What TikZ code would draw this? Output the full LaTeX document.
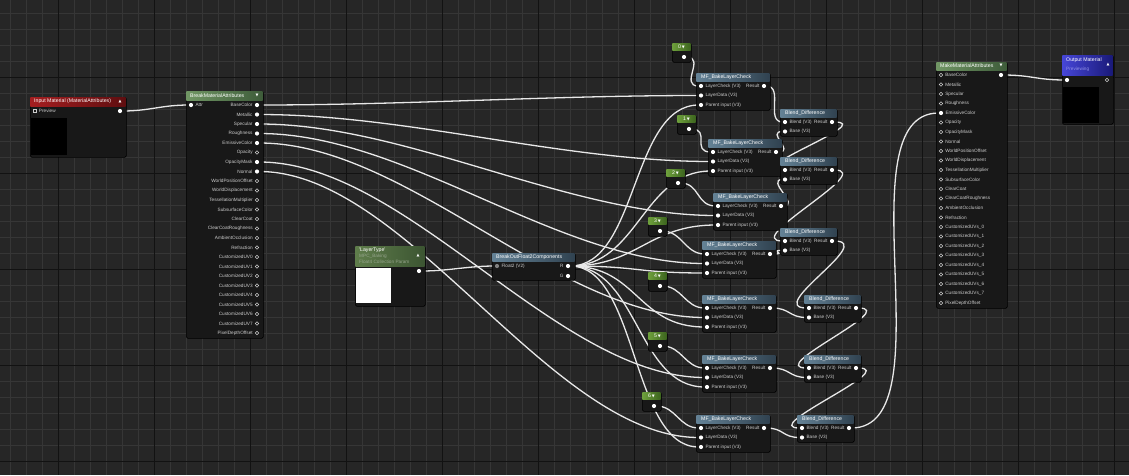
\documentclass[tikz,border=0pt]{standalone}
\usepackage{fontspec}
\setmainfont{Liberation Sans}
\newfontfamily\symfont{DejaVu Sans}
\usetikzlibrary{positioning}

\definecolor{gridbg}{RGB}{38,38,38}
\definecolor{gridminor}{RGB}{54,54,54}
\definecolor{gridmajor}{RGB}{18,18,18}
\definecolor{nodebg}{RGB}{24,24,24}
\definecolor{wirec}{RGB}{232,232,232}
\definecolor{lblc}{RGB}{205,205,205}
\definecolor{dimc}{RGB}{150,165,140}
\definecolor{redA}{RGB}{165,30,32}
\definecolor{redB}{RGB}{95,14,16}
\definecolor{grnA}{RGB}{112,150,100}
\definecolor{grnB}{RGB}{62,92,58}
\definecolor{bluA}{RGB}{100,130,150}
\definecolor{bluB}{RGB}{48,66,80}
\definecolor{cstA}{RGB}{110,160,60}
\definecolor{cstB}{RGB}{60,100,30}
\definecolor{ltA}{RGB}{95,125,75}
\definecolor{ltB}{RGB}{60,85,50}
\definecolor{outA}{RGB}{70,70,215}
\definecolor{outB}{RGB}{25,25,120}

\newcommand{\hdfont}{\fontsize{5.2}{6}\selectfont}
\newcommand{\pinfont}{\fontsize{4.7}{5.5}\selectfont}
\newcommand{\arrdown}{{\symfont\fontsize{3.8}{4}\selectfont ▼}}
\newcommand{\arrup}{{\symfont\fontsize{3.8}{4}\selectfont ▲}}

\pgfdeclarelayer{gridlayer}
\pgfdeclarelayer{wirelayer}
\pgfsetlayers{gridlayer,wirelayer,main}

\begin{document}
\begin{tikzpicture}[x=1pt, y=-1pt,
    body/.style={draw=black, fill=nodebg, rounded corners=1.5pt, anchor=north west, inner sep=0pt, line width=0.6pt},
    htext/.style={font=\hdfont, text=white, inner sep=0pt, anchor=west},
    dtext/.style={font=\pinfont, text=dimc, inner sep=0pt, anchor=west},
    lbl/.style={font=\pinfont, text=lblc, inner sep=0pt},
    pinon/.style={circle, fill=white, inner sep=0pt, minimum size=4.2pt},
    pinoff/.style={circle, draw=lblc, line width=0.5pt, inner sep=0pt, minimum size=3.6pt},
    wire/.style={draw=wirec, line width=1.3pt}
    ]

    \useasboundingbox (0,0) rectangle (1129,475);

    % grid
    \begin{pgfonlayer}{gridlayer}
    \fill[gridbg] (0,0) rectangle (1129,475);
    \foreach \gx in {10,26,...,1129} \draw[gridminor, line width=0.5pt] (\gx,0) -- (\gx,475);
    \foreach \gy in {13,29,...,475} \draw[gridminor, line width=0.5pt] (0,\gy) -- (1129,\gy);
    \foreach \gx in {58,154,...,1129} \draw[gridmajor, line width=0.9pt] (\gx,0) -- (\gx,475);
    \foreach \gy in {77,173,...,475} \draw[gridmajor, line width=0.9pt] (0,\gy) -- (1129,\gy);
    \end{pgfonlayer}

    % input material
    \node[body, minimum width=96, minimum height=60] (inmat) at (30,97) {};
    \shade[left color=redA, right color=redB] (30.3,97.3) rectangle (125.7,106);
    \node[htext] at (34,101.5) {Input Material (MaterialAttributes)};
    \node[htext, anchor=center] at (120,101.5) {\arrup};
    \node[pinoff, rectangle, minimum size=3pt] (inmat-pv) at (35,111) {};
    \node[lbl, right=2pt of inmat-pv] {Preview};
    \node[pinon] (inmat-out) at (120,111) {};
    \fill[black] (31,118) rectangle (67,155);

    % break material attributes
    \node[body, minimum width=77, minimum height=247] (bma) at (186,91) {};
    \shade[left color=grnA, right color=grnB] (186.3,91.3) rectangle (262.7,100);
    \node[htext] at (190,95.5) {BreakMaterialAttributes};
    \node[htext, anchor=center] at (257,95.5) {\arrdown};
    \node[pinon] (bma-in) at (191,105) {};
    \node[lbl, right=2pt of bma-in] {Attr};
    \foreach \lab/\st [count=\k from 0] in {BaseColor/pinon, Metallic/pinon, Specular/pinon, Roughness/pinon, EmissiveColor/pinon, Opacity/pinoff, OpacityMask/pinon, Normal/pinon, WorldPositionOffset/pinoff, WorldDisplacement/pinoff, TessellationMultiplier/pinoff, SubsurfaceColor/pinoff, ClearCoat/pinoff, ClearCoatRoughness/pinoff, AmbientOcclusion/pinoff, Refraction/pinoff, CustomizedUV0/pinoff, CustomizedUV1/pinoff, CustomizedUV2/pinoff, CustomizedUV3/pinoff, CustomizedUV4/pinoff, CustomizedUV5/pinoff, CustomizedUV6/pinoff, CustomizedUV7/pinoff, PixelDepthOffset/pinoff} {
        \node[\st] (bma-\k) at (257,105+9.5*\k) {};
        \node[lbl, left=2pt of bma-\k] {\lab};
    }

    % layer type parameter
    \node[body, minimum width=70, minimum height=60] (ltype) at (355,246) {};
    \shade[left color=ltA, right color=ltB] (355.3,246.3) rectangle (424.7,266);
    \node[htext] at (359,250) {\textquotesingle LayerType\textquotesingle};
    \node[dtext] at (359,256) {MPC\_Baking};
    \node[dtext] at (359,262) {Float4 Collection Param};
    \node[htext, anchor=center] at (418,256) {\arrup};
    \fill[white] (356,268) rectangle (391,303);
    \node[pinon] (ltype-out) at (419,271) {};

    % break out float2
    \node[body, minimum width=83, minimum height=27] (bof) at (492,253) {};
    \shade[left color=bluA, right color=bluB] (492.3,253.3) rectangle (574.7,261);
    \node[htext] at (496,257) {BreakOutFloat2Components};
    \node[pinon, fill=gray] (bof-in) at (497,266) {};
    \node[lbl, right=2pt of bof-in] {Float2 (V2)};
    \node[pinon] (bof-r) at (568,266) {};
    \node[lbl, left=2pt of bof-r] {R};
    \node[pinon] (bof-g) at (568,276) {};
    \node[lbl, left=2pt of bof-g] {G};

    % constants
    \foreach \i/\x/\y in {0/672/43, 1/677/115, 2/666/169, 3/648/217, 4/648/272, 5/648/332, 6/642/392} {
        \node[body, minimum width=19, minimum height=19] (k\i) at (\x,\y) {};
        \shade[left color=cstA, right color=cstB] (\x+0.3,\y+0.3) rectangle (\x+18.7,\y+7);
        \node[htext, anchor=center] at (\x+9.5,\y+3.6) {\i\,\arrdown};
        \node[pinon] (k\i-o) at (\x+12,\y+14) {};
    }

    % layer checks
    \foreach \i/\x/\y in {0/696/73, 1/708/139, 2/713/193, 3/702/241, 4/702/295, 5/702/355, 6/696/415} {
        \node[body, minimum width=74, minimum height=37] (lf\i) at (\x,\y) {};
        \shade[left color=bluA, right color=bluB] (\x+0.3,\y+0.3) rectangle (\x+73.7,\y+8);
        \node[htext] at (\x+5,\y+4) {MF\_BakeLayerCheck};
        \node[pinon] (lf\i-c) at (\x+5,\y+13) {};
        \node[pinon] (lf\i-d) at (\x+5,\y+22.5) {};
        \node[pinon] (lf\i-p) at (\x+5,\y+32) {};
        \node[pinon] (lf\i-r) at (\x+68,\y+13) {};
        \node[lbl, right=2pt of lf\i-c] {LayerCheck (V3)};
        \node[lbl, right=2pt of lf\i-d] {LayerData (V3)};
        \node[lbl, right=2pt of lf\i-p] {Parent input (V3)};
        \node[lbl, left=2pt of lf\i-r] {Result};
    }

    % blends
    \foreach \i/\x/\y in {0/780/109, 1/780/157, 2/780/228, 3/804/295, 4/804/355, 5/797/415} {
        \node[body, minimum width=57, minimum height=27] (bd\i) at (\x,\y) {};
        \shade[left color=bluA, right color=bluB] (\x+0.3,\y+0.3) rectangle (\x+56.7,\y+8);
        \node[htext] at (\x+5,\y+4) {Blend\_Difference};
        \node[pinon] (bd\i-a) at (\x+5,\y+13) {};
        \node[pinon] (bd\i-b) at (\x+5,\y+22.5) {};
        \node[pinon] (bd\i-r) at (\x+52,\y+13) {};
        \node[lbl, right=2pt of bd\i-a] {Blend (V3)};
        \node[lbl, right=2pt of bd\i-b] {Base (V3)};
        \node[lbl, left=2pt of bd\i-r] {Result};
    }

    % make material attributes
    \node[body, minimum width=71, minimum height=246] (mma) at (936,62) {};
    \shade[left color=grnA, right color=grnB] (936.3,62.3) rectangle (1006.7,70);
    \node[htext] at (940,66) {MakeMaterialAttributes};
    \node[htext, anchor=center] at (1001,66) {\arrdown};
    \foreach \lab/\st [count=\k from 0] in {BaseColor/pinoff, Metallic/pinoff, Specular/pinoff, Roughness/pinoff, EmissiveColor/pinon, Opacity/pinoff, OpacityMask/pinoff, Normal/pinoff, WorldPositionOffset/pinoff, WorldDisplacement/pinoff, TessellationMultiplier/pinoff, SubsurfaceColor/pinoff, ClearCoat/pinoff, ClearCoatRoughness/pinoff, AmbientOcclusion/pinoff, Refraction/pinoff, CustomizedUVs\_0/pinoff, CustomizedUVs\_1/pinoff, CustomizedUVs\_2/pinoff, CustomizedUVs\_3/pinoff, CustomizedUVs\_4/pinoff, CustomizedUVs\_5/pinoff, CustomizedUVs\_6/pinoff, CustomizedUVs\_7/pinoff, PixelDepthOffset/pinoff} {
        \node[\st] (mma-\k) at (941,75+9.5*\k) {};
        \node[lbl, right=2pt of mma-\k] {\lab};
    }
    \node[pinon] (mma-out) at (1001,75) {};

    % output material
    \node[body, minimum width=51, minimum height=69] (outmat) at (1062,55) {};
    \shade[left color=outA, right color=outB] (1062.3,55.3) rectangle (1112.7,75);
    \node[htext] at (1066,60) {Output Material};
    \node[dtext, text=outA!60!white] at (1066,69) {Previewing};
    \node[htext, anchor=center] at (1108,65) {\arrup};
    \node[pinon] (outmat-in) at (1067,80) {};
    \node[pinoff] (outmat-out) at (1107,80) {};
    \fill[black] (1063,87) rectangle (1099,123);

    % wires
    \begin{pgfonlayer}{wirelayer}
    \draw[wire] (inmat-out) .. controls +(30,0) and +(-30,0) .. (bma-in);
    \draw[wire] (ltype-out) .. controls +(30,0) and +(-30,0) .. (bof-in);
    \foreach \i/\k in {0/0, 1/1, 2/2, 3/3, 4/4, 5/6, 6/7}
        \draw[wire] (bma-\k) .. controls +(150,0) and +(-150,0) .. (lf\i-d);
    \foreach \i in {0,...,6} {
        \draw[wire] (bof-r) .. controls +(70,0) and +(-70,0) .. (lf\i-p);
        \draw[wire] (k\i-o) .. controls +(22,0) and +(-22,0) .. (lf\i-c);
    }
    \draw[wire] (lf0-r) .. controls +(20,0) and +(-20,0) .. (bd0-a);
    \foreach \i [evaluate=\i as \j using int(\i+1)] in {0,...,5}
        \draw[wire] (lf\j-r) .. controls +(20,0) and +(-20,0) .. (bd\i-b);
    \foreach \i [evaluate=\i as \j using int(\i+1)] in {0,...,4}
        \draw[wire] (bd\i-r) .. controls +(45,0) and +(-45,0) .. (bd\j-a);
    \draw[wire] (bd5-r) .. controls +(100,0) and +(-100,0) .. (mma-4);
    \draw[wire] (mma-out) .. controls +(30,0) and +(-30,0) .. (outmat-in);
    \end{pgfonlayer}
\end{tikzpicture}
\end{document}
